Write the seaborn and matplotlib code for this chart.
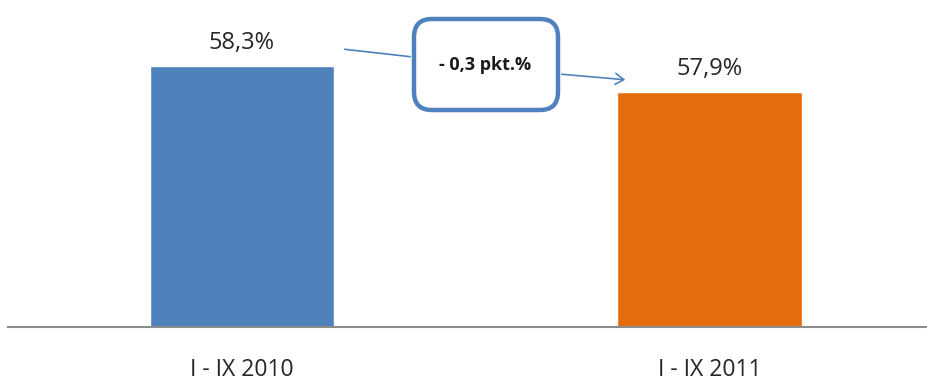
import matplotlib
matplotlib.use("Agg")
import matplotlib.pyplot as plt
import seaborn as sns
import pandas as pd
from matplotlib.patches import FancyBboxPatch, FancyArrowPatch

categories = ["I - IX 2010", "I - IX 2011"]
values = [58.3, 57.9]
value_labels = ["58,3%", "57,9%"]
change_label = "- 0,3 pkt.%"
colors = ["#4F81BD", "#E46C0A"]

sns.set_theme(style="white")
plt.rcParams['font.family'] = ['Open Sans', 'DejaVu Sans']

df = pd.DataFrame({"cat": categories, "val": values})

fig = plt.figure(figsize=(9.27, 3.81), dpi=100)
ax = fig.add_axes([8/927, 54/381, 919/927, 327/381])
sns.barplot(data=df, x="cat", y="val", hue="cat", palette=colors, legend=False,
            width=0.395, ax=ax, saturation=1)
ax.set_xlim(-0.5, 1.464)
ax.set_ylim(54.28, 59.32)
ax.set_xlabel("")
ax.set_ylabel("")
ax.set_yticks([])
for s in ["top", "right", "left"]:
    ax.spines[s].set_visible(False)
ax.spines["bottom"].set_color("#8c8c8c")
ax.spines["bottom"].set_linewidth(1.5)
ax.tick_params(axis="x", length=0, pad=22.5, labelsize=16.5, colors="#262626")

for i, (v, lab) in enumerate(zip(values, value_labels)):
    ax.annotate(lab, (i, v), xytext=(0, 8), textcoords="offset points",
                ha="center", va="bottom", fontsize=17, color="#262626")

tr = fig.dpi_scale_trans
box = FancyBboxPatch((4.14, 2.71), 1.44, 0.91,
                     boxstyle="round,pad=0,rounding_size=0.18",
                     transform=tr, facecolor="white", edgecolor="#4F81BD",
                     linewidth=3.2, zorder=5)
fig.patches.append(box)
fig.text(4.85, 3.16, change_label, transform=tr, ha="center", va="center",
         fontsize=13, fontweight="bold", color="#1a1a1a", zorder=6)

a1 = FancyArrowPatch((3.42, 3.32), (4.13, 3.24), transform=tr, arrowstyle="-",
                     color="#4F81BD", linewidth=1.2)
a2 = FancyArrowPatch((5.59, 3.07), (6.28, 3.01), transform=tr,
                     arrowstyle="->,head_length=6,head_width=4",
                     color="#4F81BD", linewidth=1.2)
fig.patches.append(a1)
fig.patches.append(a2)

fig.savefig("out.png", dpi=100)
